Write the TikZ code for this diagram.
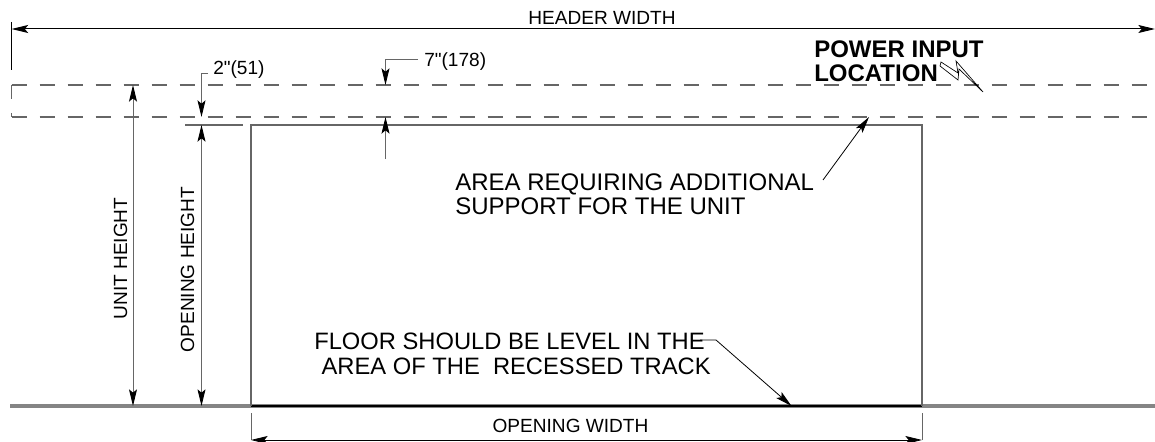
\documentclass[tikz,border=0pt]{standalone}
\usepackage{fontspec}
\setmainfont{Liberation Sans}[Ligatures=TeXOff]
\usetikzlibrary{arrows.meta}
\definecolor{linegray}{gray}{0.4}
\definecolor{floorgray}{gray}{0.52}
\tikzset{
	dimline/.style={line width=0.75pt,color=linegray},
	thinline/.style={line width=0.6pt,color=black},
	edgeline/.style={line width=0.8pt,color=linegray},
	hiddenline/.style={line width=0.8pt,color=linegray,dash pattern=on 11.25pt off 9.75pt},
	dimlabel/.style={inner sep=0pt,font=\fontsize{14.3pt}{18pt}\selectfont,text=black},
	notelabel/.style={inner sep=0pt,font=\fontsize{18pt}{18.4pt}\selectfont,text=black,align=left},
	floorlabel/.style={notelabel,font=\fontsize{17.8pt}{18.2pt}\selectfont},
	biglabel/.style={inner sep=0pt,font=\fontsize{18pt}{18pt}\selectfont\bfseries,text=black,align=left}
}
\begin{document}
\begin{tikzpicture}[x=0.75pt,y=-0.75pt,>/.tip={Stealth[length=12.5pt,width=6pt,inset=2.5pt,color=black]}]
	\useasboundingbox (0,0) rectangle (1155,442);

	\coordinate (hwl) at (11.5,29);
	\coordinate (hwr) at (1155,29);
	\coordinate (hwt) at (11.5,22);
	\coordinate (hwb) at (11.5,70);
	\coordinate (utl) at (11.5,85);
	\coordinate (utr) at (1155,85);
	\coordinate (ubl) at (11.5,117);
	\coordinate (ubr) at (1155,117);
	\coordinate (usa) at (11.5,99);
	\coordinate (usb) at (11.5,113);
	\coordinate (flrl) at (10,406);
	\coordinate (flrr) at (1155,406);
	\coordinate (optl) at (251,125);
	\coordinate (optr) at (922,125);
	\coordinate (opbl) at (251,406);
	\coordinate (opbr) at (922,406);
	\coordinate (owl) at (251,440);
	\coordinate (owr) at (922,440);
	\coordinate (owlt) at (251,413);
	\coordinate (owrt) at (922,413);
	\coordinate (uht) at (133,85);
	\coordinate (uhb) at (133,406);
	\coordinate (oht) at (201.5,125);
	\coordinate (ohb) at (201.5,406);
	\coordinate (extl) at (185,125);
	\coordinate (extr) at (243,125);
	\coordinate (twol) at (208,74);
	\coordinate (twoc) at (201.5,74);
	\coordinate (twoe) at (201.5,117);
	\coordinate (sevl) at (418,60);
	\coordinate (sevc) at (385.5,60);
	\coordinate (seve) at (385.5,85);
	\coordinate (sevs) at (385.5,159);
	\coordinate (seva) at (385.5,117);
	\coordinate (ars) at (823,180);
	\coordinate (are) at (869,117);
	\coordinate (fls) at (700,340);
	\coordinate (flc) at (716,340);
	\coordinate (fle) at (791.5,406);

	\node [dimlabel] (header) at (602,18) {HEADER WIDTH};
	\node [dimlabel] (openw) at (570.5,426) {OPENING WIDTH};
	\node [dimlabel,rotate=90] (unith) at (120.5,258.5) {UNIT HEIGHT};
	\node [dimlabel,rotate=90] (openh) at (187.5,269.5) {OPENING HEIGHT};
	\node [dimlabel,anchor=west] (twoin) at (213,70) {2"(51)};
	\node [dimlabel,anchor=west] (sevin) at (424,62) {7"(178)};
	\node [biglabel,anchor=north west] (power) at (814,40) {POWER INPUT\\LOCATION};
	\node [notelabel,anchor=north west] (area) at (455,173) {AREA REQUIRING ADDITIONAL\\SUPPORT FOR THE UNIT};
	\node [floorlabel,anchor=north west] (floor) at (314,333) {FLOOR SHOULD BE LEVEL IN THE\\\hspace*{5.5pt}AREA OF THE\ \ RECESSED TRACK};

	\draw [floorgray,line width=2.6pt] (flrl) -- (flrr);
	\draw [line width=1pt] (opbl) -- (opbr);
	\draw [edgeline] (opbl) -- (optl) -- (optr) -- (opbr);
	\draw [edgeline] (extl) -- (extr);

	\draw [hiddenline] (utl) -- (utr);
	\draw [hiddenline] (ubl) -- (ubr);
	\draw [edgeline] (utl) -- (usa);
	\draw [edgeline] (usb) -- (ubl);

	\draw [thinline] (hwt) -- (hwb);
	\draw [thinline,line width=0.75pt,<->] (hwl) -- (hwr);
	\draw [thinline,color=linegray] (owlt) -- (owl);
	\draw [thinline,color=linegray] (owrt) -- (owr);
	\draw [thinline,<->] (owl) -- (owr);

	\draw [dimline,<->] (uht) -- (uhb);
	\draw [dimline,<->] (oht) -- (ohb);
	\draw [dimline,->] (twol) -- (twoc) -- (twoe);
	\draw [dimline,->] (sevl) -- (sevc) -- (seve);
	\draw [dimline,->] (sevs) -- (seva);

	\draw [thinline,->] (ars) -- (are);
	\draw [thinline,->] (fls) -- (flc) -- (fle);

	\draw [thinline,line width=0.5pt] (941,62) -- (958,73) -- (956,61) -- (983,92) -- (959,69) -- (958,80) -- (940,66) -- cycle;
\end{tikzpicture}
\end{document}
